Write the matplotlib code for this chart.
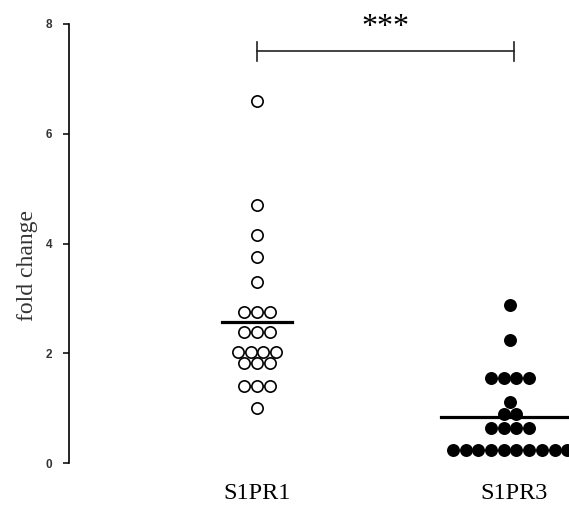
import matplotlib.pyplot as plt
import numpy as np

# datos
grupos = ["S1PR1", "S1PR3"]
s1pr1 = [6.6, 4.7, 4.15, 3.75, 3.3,
         2.75, 2.75, 2.75,
         2.38, 2.38, 2.38,
         2.02, 2.02, 2.02, 2.02,
         1.83, 1.83, 1.83,
         1.4, 1.4, 1.4,
         1.0]
s1pr3 = [2.88, 2.25,
         1.55, 1.55, 1.55, 1.55,
         1.11,
         0.89, 0.89,
         0.64, 0.64, 0.64, 0.64,
         0.24, 0.24, 0.24, 0.24, 0.24, 0.24, 0.24, 0.24, 0.24, 0.24]
yticks = [0, 2, 4, 6, 8]
signif = "***"

paso = 0.0494  # separacion horizontal entre puntos


def enjambre(vals, centro):
    # puntos con el mismo valor se ponen lado a lado
    vals = np.array(vals)
    xs = np.zeros(len(vals))
    for v in np.unique(vals):
        idx = np.where(vals == v)[0]
        n = len(idx)
        xs[idx] = centro + (np.arange(n) - (n - 1) / 2) * paso
    ancho = max(np.sum(vals == v) for v in np.unique(vals))
    return xs, ancho


fig = plt.figure(figsize=(5.69, 5.15), dpi=100)
ax = fig.add_axes([69 / 569, 52 / 515, 500 / 569, 439 / 515])

estilos = [dict(facecolor="white", edgecolor="black"),
           dict(facecolor="black", edgecolor="black")]

for i, datos in enumerate([s1pr1, s1pr3]):
    c = i + 1
    xs, ancho = enjambre(datos, c - 0.015 * i)
    ax.scatter(xs, datos, s=66, linewidths=1.2, zorder=3, **estilos[i])
    media = np.mean(datos)
    mitad = (ancho - 1) / 2 * paso + 0.062
    ax.plot([c - mitad, c + mitad], [media, media], color="black", lw=2.3,
            zorder=4, clip_on=False)

# barra de significancia
ax.plot([1, 2], [7.5, 7.5], color="#222222", lw=1.2, clip_on=False)
ax.plot([1, 1], [7.33, 7.67], color="#222222", lw=1.2, clip_on=False)
ax.plot([2, 2], [7.33, 7.67], color="#222222", lw=1.2, clip_on=False)
ax.text(1.5, 7.93, signif, ha="center", va="center", fontsize=23,
        family="Liberation Serif", clip_on=False)

ax.set_xlim(1 - 188 / 257, 2 + 55 / 257)
ax.set_ylim(0, 8)
ax.set_yticks(yticks)
ax.set_yticklabels([str(t) for t in yticks], fontsize=8.5, fontweight="bold",
                   family="Liberation Sans", color="#333333")
ax.tick_params(axis="y", direction="out", length=4, width=1.1, pad=8)
ax.set_xticks([])
for lado in ["top", "right", "bottom"]:
    ax.spines[lado].set_visible(False)
ax.spines["left"].set_linewidth(1.2)

ax.set_ylabel("fold change", fontsize=17, family="Liberation Serif",
              color="#333333", va="center")
ax.yaxis.set_label_coords(-0.084, 0.449)

for i, g in enumerate(grupos):
    ax.text(i + 1, -0.55, g, ha="center", va="center", fontsize=17.5,
            family="Liberation Serif", clip_on=False)

fig.savefig("out.png", dpi=100)
